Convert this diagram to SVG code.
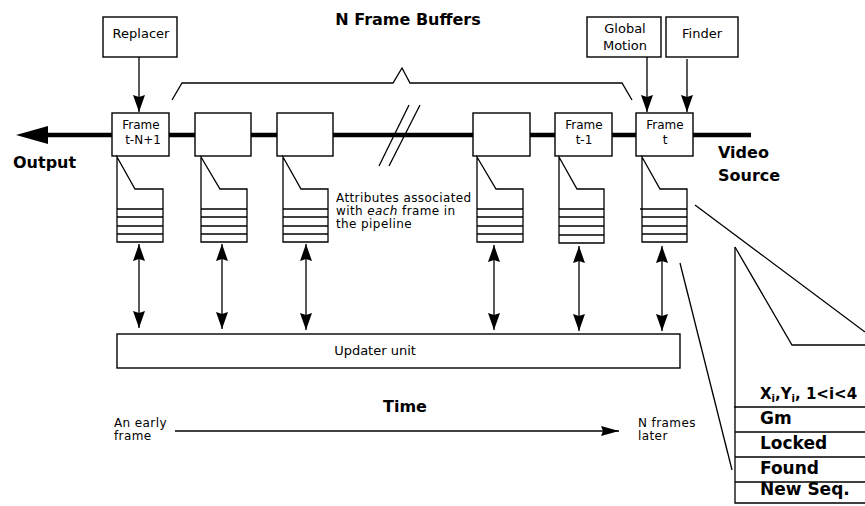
<svg xmlns="http://www.w3.org/2000/svg" width="865" height="506" viewBox="0 0 865 506">
<defs>
<style>
.bx{fill:#fff;stroke:#000;stroke-width:1.4}
.ln{fill:none;stroke:#000;stroke-width:1.3}
.st{fill:#fff;stroke:#000;stroke-width:1.3}
.t{font-family:"DejaVu Sans",sans-serif;font-size:13px;fill:#000}
.t2{font-family:"DejaVu Sans",sans-serif;font-size:12px;letter-spacing:0.4px;fill:#000}
.tf{font-family:"DejaVu Sans",sans-serif;font-size:12px;fill:#000;text-anchor:middle}
.tm{text-anchor:middle}
.b{font-family:"DejaVu Sans",sans-serif;font-weight:bold;font-size:16px;fill:#000}
.bd{font-family:"DejaVu Sans",sans-serif;font-weight:bold;font-size:17px;fill:#000}
.bh{font-family:"DejaVu Sans",sans-serif;font-weight:bold;font-size:15px;fill:#000}
</style>
<marker id="ah" viewBox="0 0 17 12" refX="17" refY="6" markerWidth="17" markerHeight="12" markerUnits="userSpaceOnUse" orient="auto-start-reverse"><path d="M0,0 L17,6 L0,12 L2,6 Z" fill="#000"/></marker>
<marker id="ah2" viewBox="0 0 18 10" refX="18" refY="5" markerWidth="18" markerHeight="10" markerUnits="userSpaceOnUse" orient="auto"><path d="M0,0 L18,5 L0,10 L2,5 Z" fill="#000"/></marker>
</defs>
<rect width="865" height="506" fill="#fff"/>

<g id="pipeline">
<line x1="46" y1="135" x2="751" y2="135" stroke="#000" stroke-width="4.5"/>
<polygon points="16,135 48,126 48,144" fill="#000"/>
<line class="ln" x1="409" y1="105" x2="379" y2="166"/>
<line class="ln" x1="420" y1="105" x2="389" y2="166"/>
</g>

<g id="brace">
<polyline class="ln" points="172,100 182,83 393,83 402,68 410,83 622,83 632,100"/>
<text class="b tm" x="408" y="25">N Frame Buffers</text>
</g>

<g id="connectors">
<line class="ln" x1="139" y1="57" x2="139" y2="112" marker-end="url(#ah)"/>
<line class="ln" x1="647" y1="57" x2="647" y2="112" marker-end="url(#ah)"/>
<line class="ln" x1="687" y1="59" x2="687" y2="112" marker-end="url(#ah)"/>
<line class="ln" x1="139" y1="244" x2="139" y2="328" marker-start="url(#ah)" marker-end="url(#ah)"/>
<line class="ln" x1="222" y1="244" x2="222" y2="329" marker-start="url(#ah)" marker-end="url(#ah)"/>
<line class="ln" x1="306" y1="244" x2="306" y2="330" marker-start="url(#ah)" marker-end="url(#ah)"/>
<line class="ln" x1="494" y1="245" x2="494" y2="330" marker-start="url(#ah)" marker-end="url(#ah)"/>
<line class="ln" x1="579" y1="246" x2="579" y2="331" marker-start="url(#ah)" marker-end="url(#ah)"/>
<line class="ln" x1="662" y1="246" x2="662" y2="331" marker-start="url(#ah)" marker-end="url(#ah)"/>
<line class="ln" x1="175" y1="431" x2="619" y2="431" stroke-width="1.5" marker-end="url(#ah2)"/>
<line class="ln" x1="695" y1="205" x2="865" y2="332"/>
<line class="ln" x1="680" y1="263" x2="732" y2="470"/>
</g>

<g id="replacer">
<rect class="bx" x="103" y="17" width="74" height="40"/>
<text class="t tm" x="141" y="38">Replacer</text>
</g>
<g id="global-motion">
<rect class="bx" x="587" y="17" width="74" height="40"/>
<text class="t tm" x="625" y="33">Global</text>
<text class="t tm" x="625" y="50">Motion</text>
</g>
<g id="finder">
<rect class="bx" x="666" y="17" width="72" height="40"/>
<text class="t tm" x="702" y="38">Finder</text>
</g>

<g id="frame1">
<rect class="bx" x="112" y="113" width="57" height="43"/>
<text class="tf" x="141" y="129">Frame</text>
<text class="tf" x="143" y="144">t-N+1</text>
<path class="st" d="M117,157 L135,189 L163,189 L163,242 L117,242 Z"/>
<path class="ln" d="M117,209 H163 M117,217 H163 M117,226 H163 M117,234 H163"/>
</g>
<g id="frame2">
<rect class="bx" x="195" y="113" width="56" height="43"/>
<path class="st" d="M201,157 L220,189 L247,189 L247,242 L201,242 Z"/>
<path class="ln" d="M201,209 H247 M201,217 H247 M201,226 H247 M201,234 H247"/>
</g>
<g id="frame3">
<rect class="bx" x="277" y="113" width="56" height="43"/>
<path class="st" d="M283,157 L301,189 L328,189 L328,242 L283,242 Z"/>
<path class="ln" d="M283,209 H328 M283,217 H328 M283,226 H328 M283,234 H328"/>
</g>
<g id="frame4">
<rect class="bx" x="473" y="113" width="57" height="43"/>
<path class="st" d="M477,157 L496,189 L523,189 L523,242 L477,242 Z"/>
<path class="ln" d="M477,209 H523 M477,217 H523 M477,226 H523 M477,234 H523"/>
</g>
<g id="frame5">
<rect class="bx" x="555" y="113" width="57" height="43"/>
<text class="tf" x="584" y="129">Frame</text>
<text class="tf" x="584" y="144">t-1</text>
<path class="st" d="M559,157 L577,189 L604,189 L604,243 L559,243 Z"/>
<path class="ln" d="M559,209 H604 M559,217 H604 M559,226 H604 M559,235 H604"/>
</g>
<g id="frame6">
<rect class="bx" x="636" y="113" width="57" height="43"/>
<text class="tf" x="665" y="129">Frame</text>
<text class="tf" x="665" y="144">t</text>
<path class="st" d="M642,157 L660,189 L687,189 L687,242 L642,242 Z"/>
<path class="ln" d="M640,209 H687 M642,217 H687 M642,226 H687 M642,234 H687"/>
</g>

<g id="attributes-note">
<text class="t2" x="336" y="202">Attributes associated</text>
<text class="t2" x="336" y="215">with <tspan font-style="italic">each</tspan> frame in</text>
<text class="t2" x="336" y="228">the pipeline</text>
</g>

<g id="updater">
<rect class="bx" x="117" y="334" width="563" height="34"/>
<text class="t tm" x="375" y="355">Updater unit</text>
</g>

<g id="labels">
<text class="b" x="13" y="168">Output</text>
<text class="b" x="718" y="158">Video</text>
<text class="b" x="718" y="181">Source</text>
<text class="b" x="383" y="412" font-size="15">Time</text>
<text class="t2" x="114" y="427">An early</text>
<text class="t2" x="114" y="440">frame</text>
<text class="t2" x="638" y="427">N frames</text>
<text class="t2" x="638" y="440">later</text>
</g>

<g id="detail">
<path class="ln" d="M735,247 L735,503 L865,503"/>
<polyline class="ln" points="735,247 792,345 865,345"/>
<path class="ln" d="M734,407 H865 M735,432 H865 M735,457 H865 M735,482 H865"/>
<text class="bh" x="760" y="399">X<tspan font-size="10" dy="3">i</tspan><tspan dy="-3">,Y</tspan><tspan font-size="10" dy="3">i</tspan><tspan dy="-3">, 1&lt;i&lt;4</tspan></text>
<text class="bd" x="760" y="424">Gm</text>
<text class="bd" x="760" y="449">Locked</text>
<text class="bd" x="760" y="474">Found</text>
<text class="bd" x="760" y="495">New Seq.</text>
</g>
</svg>
